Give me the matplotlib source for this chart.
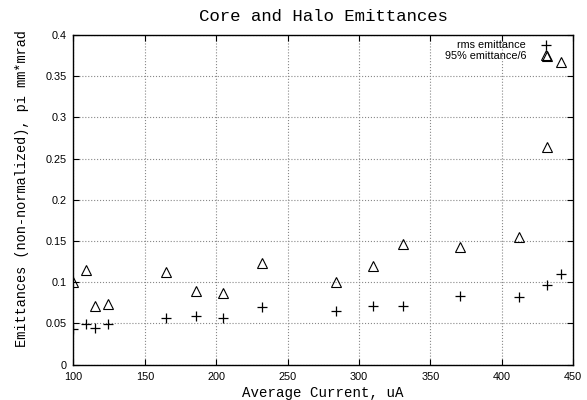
import matplotlib
matplotlib.use('Agg')
import matplotlib.pyplot as plt

# average beam current, uA
current = [100, 109, 115, 124, 165, 186, 205, 232, 284, 310, 331, 371, 412, 432, 442]
# rms emittance, pi mm*mrad
rms_emit = [0.043, 0.049, 0.045, 0.049, 0.056, 0.059, 0.057, 0.070, 0.065, 0.071, 0.071, 0.083, 0.082, 0.096, 0.110]
# 95% emittance / 6 (two points at ~430)
halo_current = [100, 109, 115, 124, 165, 186, 205, 232, 284, 310, 331, 371, 412, 432, 432, 442]
halo_emit = [0.100, 0.115, 0.071, 0.0735, 0.1125, 0.089, 0.087, 0.1235, 0.100, 0.120, 0.1465, 0.1425, 0.1545, 0.264, 0.375, 0.367]

xticks = [100, 150, 200, 250, 300, 350, 400, 450]
yticks = [0, 0.05, 0.1, 0.15, 0.2, 0.25, 0.3, 0.35, 0.4]
ytick_labels = ['0', '0.05', '0.1', '0.15', '0.2', '0.25', '0.3', '0.35', '0.4']

mono = 'Liberation Mono'
sans = 'Liberation Sans'

fig = plt.figure(figsize=(5.87, 4.0), dpi=100)
ax = fig.add_axes([0.1252, 0.0885, 0.8508, 0.824])

ax.plot(current, rms_emit, '+', color='black', markersize=7.5, markeredgewidth=0.9, label='rms emittance')
ax.plot(halo_current, halo_emit, '^', color='black', markerfacecolor='none', markersize=6.5,
        markeredgewidth=0.8, label='95% emittance/6')

ax.set_xlim(100, 450)
ax.set_ylim(0, 0.4)
ax.set_xticks(xticks)
ax.set_yticks(yticks)
ax.set_yticklabels(ytick_labels)
ax.tick_params(direction='in', length=4, width=0.8, top=True, right=True, labelsize=7.8, pad=5)
for lab in ax.get_xticklabels() + ax.get_yticklabels():
    lab.set_family(sans)
ax.grid(True, linestyle=':', color='#888888', linewidth=0.8)
for s in ax.spines.values():
    s.set_linewidth(1.0)

ax.set_title('Core and Halo Emittances', family=mono, fontsize=12.5, pad=10)
ax.set_xlabel('Average Current, uA', family=mono, fontsize=10.2, labelpad=3)
ax.set_ylabel('Emittances (non-normalized), pi mm*mrad', family=mono, fontsize=9.8)
ax.yaxis.set_label_coords(-0.089, 0.535)

leg = ax.legend(loc='upper right', bbox_to_anchor=(0.968, 1.0), frameon=False, markerfirst=False,
                prop={'family': sans, 'size': 7.8}, labelspacing=0.05, handlelength=1.0,
                handletextpad=1.35, borderaxespad=0.3, borderpad=0.2)
for t in leg.get_texts():
    t.set_ha('right')

fig.savefig('out.png', dpi=100)
